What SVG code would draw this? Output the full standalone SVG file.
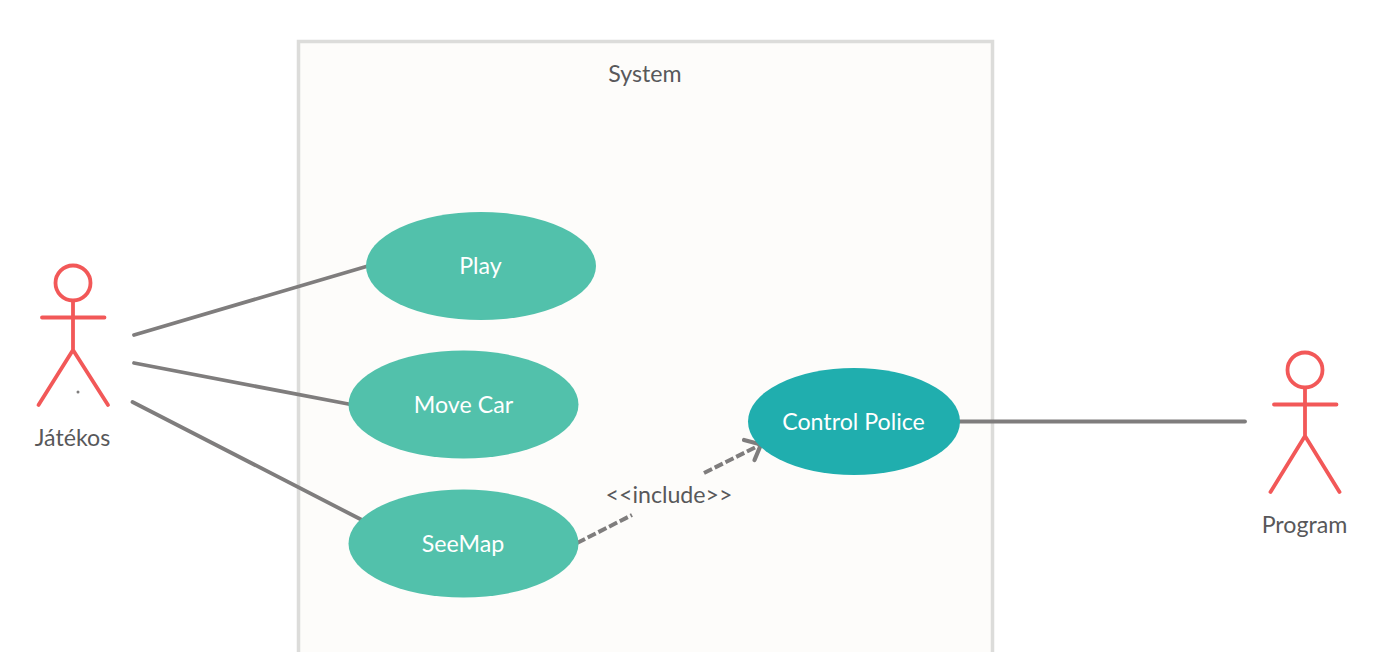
<svg xmlns="http://www.w3.org/2000/svg" width="1383" height="652" viewBox="0 0 1383 652">
<style>
text{font-family:Lato,"Open Sans",sans-serif;text-anchor:middle;font-size:23.200px}
.l{fill:#58585a}
.w{fill:#fff}
.a{fill:none;stroke:#f25858;stroke-width:3.800;stroke-linecap:round;stroke-linejoin:round}
.c{fill:none;stroke:#7f7d7d;stroke-width:3.800;stroke-linecap:round}
.d{fill:none;stroke:#7f7d7d;stroke-width:4;stroke-dasharray:9 3}
.u{fill:#52c1ab}
</style>
<rect width="1383" height="652" fill="#fff"/>
<g id="system">
<rect x="298.500" y="41.500" width="694" height="640" fill="#fdfcfa" stroke="#dcdcda" stroke-width="3.500"/>
<text x="645" y="81.500" class="l">System</text>
</g>
<g id="connectors">
<path class="c" d="M134 335L368 266"/>
<path class="c" d="M134 363L351 404.500"/>
<path class="c" d="M132.500 402L362 520"/>
<path class="c" d="M959 421.500H1245"/>
<path class="d" d="M577 543L632 515"/>
<path class="d" d="M704 473L760 445"/>
<path class="c" style="stroke-width:4.200" stroke-linejoin="round" d="M744 440L761 444.500L754.500 460"/>
</g>
<g id="play"><ellipse class="u" cx="481" cy="266" rx="115" ry="54"/><text x="480.500" y="274" class="w">Play</text></g>
<g id="move-car"><ellipse class="u" cx="463.500" cy="404.500" rx="115" ry="54"/><text x="463.500" y="412.500" class="w">Move Car</text></g>
<g id="seemap"><ellipse class="u" cx="463.500" cy="543.500" rx="115" ry="54"/><text x="463" y="551.500" class="w">SeeMap</text></g>
<g id="control-police"><ellipse cx="854" cy="421.500" rx="106" ry="53.500" fill="#20aeae"/><text x="853.500" y="430" class="w">Control Police</text></g>
<g id="include-label"><text x="669" y="503" class="l">&lt;&lt;include&gt;&gt;</text></g>
<g id="jatekos">
<circle class="a" cx="73" cy="283" r="17.500"/>
<path class="a" d="M73 301V350M42 317.500H104.500M73 350L38.500 405M73 350L108 405"/>
<circle cx="78" cy="392" r="1.500" fill="#7f7d7d"/>
<text x="72.500" y="446" class="l">Játékos</text>
</g>
<g id="program">
<circle class="a" cx="1305" cy="370" r="17.500"/>
<path class="a" d="M1305 388V436M1274 404.500H1336.500M1305 436L1270.500 492M1305 436L1339.500 492"/>
<text x="1304.500" y="533" class="l">Program</text>
</g>
</svg>
